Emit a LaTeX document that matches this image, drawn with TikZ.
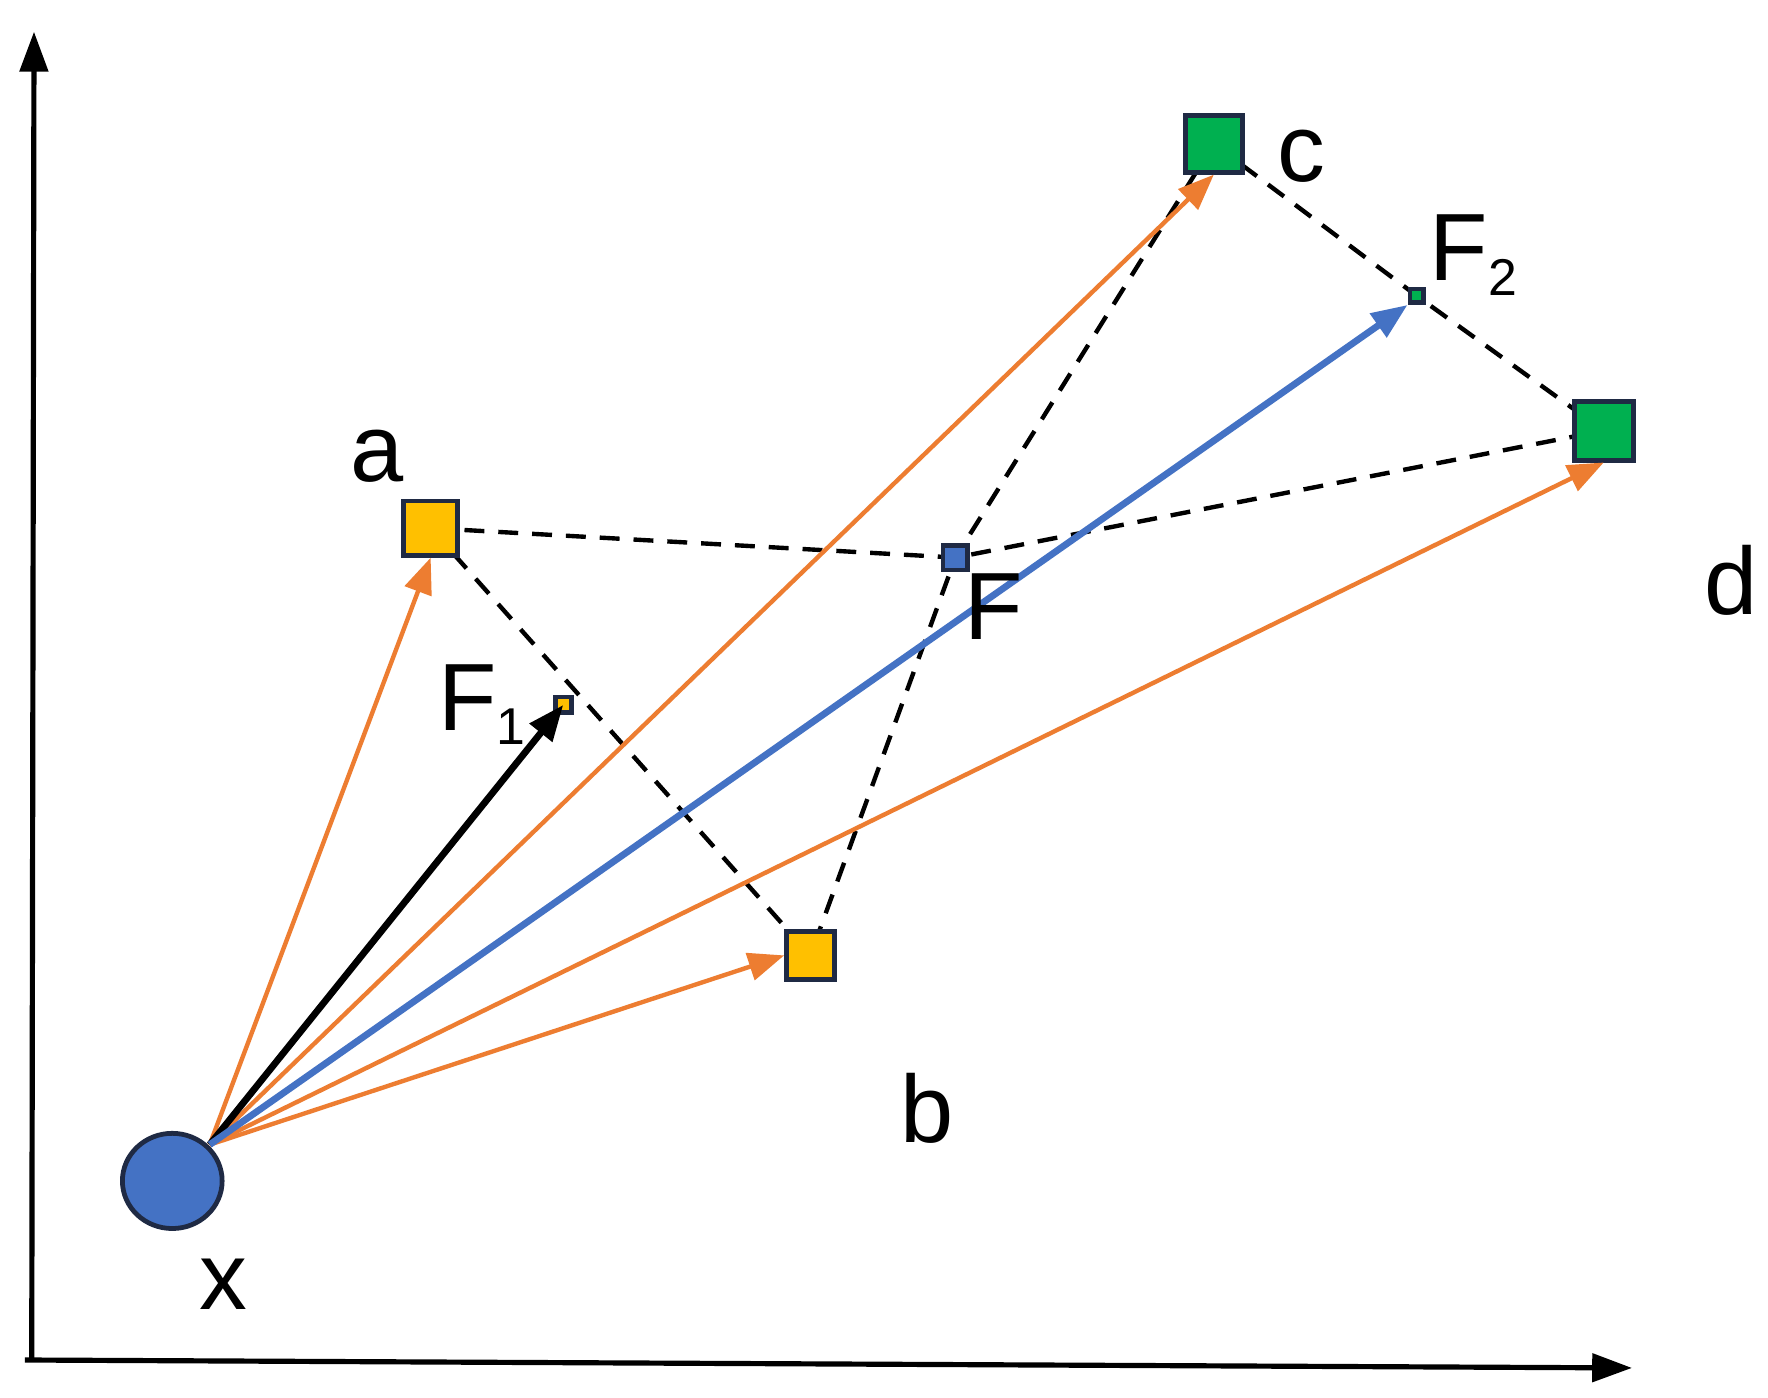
\documentclass[tikz,border=0pt]{standalone}
\usepackage{fontspec}
\setmainfont{Liberation Sans}
\usetikzlibrary{arrows.meta, shapes.geometric}
\definecolor{orangeA}{HTML}{ED7D31}
\definecolor{blueA}{HTML}{4472C4}
\definecolor{yellowA}{HTML}{FFC000}
\definecolor{greenA}{HTML}{00B050}
\definecolor{edgeA}{HTML}{1F2A44}
\tikzset{
  pt/.style={draw=edgeA, line width=1.2pt, minimum size=#1, inner sep=0pt},
  lbl/.style={font=\fontsize{24}{28}\selectfont},
  vec/.style={-{Triangle[length=9pt,width=7pt]}, line width=1.1pt},
  link/.style={line width=1.1pt, dash pattern=on 5pt off 3.5pt}
}
\begin{document}
\begin{tikzpicture}
  \useasboundingbox[fill=white] (0,0) rectangle (15.6,12.33);
  % axes
  \draw[-{Triangle[length=10pt,width=7pt]}, line width=1.3pt] (0.22,0.33) -- (14.4,0.26);
  \draw[-{Triangle[length=10pt,width=7pt]}, line width=1.3pt] (0.28,0.33) -- (0.30,12.05);
  % points
  \coordinate (ca) at (3.80,7.67);
  \coordinate (cb) at (7.15,3.90);
  \coordinate (cc) at (10.71,11.06);
  \coordinate (cd) at (14.15,8.53);
  \coordinate (cF) at (8.43,7.41);
  \coordinate (cF1) at (4.97,6.11);
  \coordinate (cF2) at (12.50,9.72);
  % dashed links
  \draw[link] (ca) -- (cb);
  \draw[link] (ca) -- (cF) -- (cd);
  \draw[link] (cc) -- (cF) -- (cb);
  \draw[link] (cc) -- (cF2) -- (cd);
  % nodes
  \node[pt=0.48cm, fill=yellowA] (a) at (ca) {};
  \node[pt=0.42cm, fill=yellowA] (b) at (cb) {};
  \node[pt=0.50cm, fill=greenA] (c) at (cc) {};
  \node[pt=0.52cm, fill=greenA] (d) at (cd) {};
  \node[pt=0.22cm, fill=blueA] (F) at (cF) {};
  \node[pt=0.14cm, fill=yellowA] (F1) at (cF1) {};
  \node[pt=0.12cm, fill=greenA] (F2) at (cF2) {};
  \node[draw=edgeA, line width=1.2pt, fill=blueA, ellipse, inner sep=0pt,
        minimum width=0.88cm, minimum height=0.84cm] (x) at (1.52,1.91) {};
  \coordinate (src) at (1.85,2.23);
  % vectors
  \draw[vec, orangeA] (src) -- (a.south);
  \draw[vec, orangeA] (src) -- (c.south);
  \draw[vec, orangeA] (src) -- (b.west);
  \draw[vec, orangeA] (src) -- (d.south);
  \draw[vec, black, line width=1.7pt] (src) -- (F1.center);
  \draw[vec, blueA, line width=1.7pt] (src) -- (F2.south west);
  % labels
  \node[lbl] (la) at (3.33,8.30) {a};
  \node[lbl] (lb) at (8.18,2.55) {b};
  \node[lbl] (lc) at (11.48,10.95) {c};
  \node[lbl] (ld) at (15.27,7.21) {d};
  \node[lbl] (lF) at (8.77,6.98) {F};
  \node[lbl] (lF1) at (4.25,6.11) {F\raisebox{-0.15em}{\fontsize{13}{15}\selectfont 1}};
  \node[lbl] (lF2) at (13.0,10.08) {F\raisebox{-0.15em}{\fontsize{13}{15}\selectfont 2}};
  \node[lbl] (lx) at (1.97,1.0) {x};
\end{tikzpicture}
\end{document}
